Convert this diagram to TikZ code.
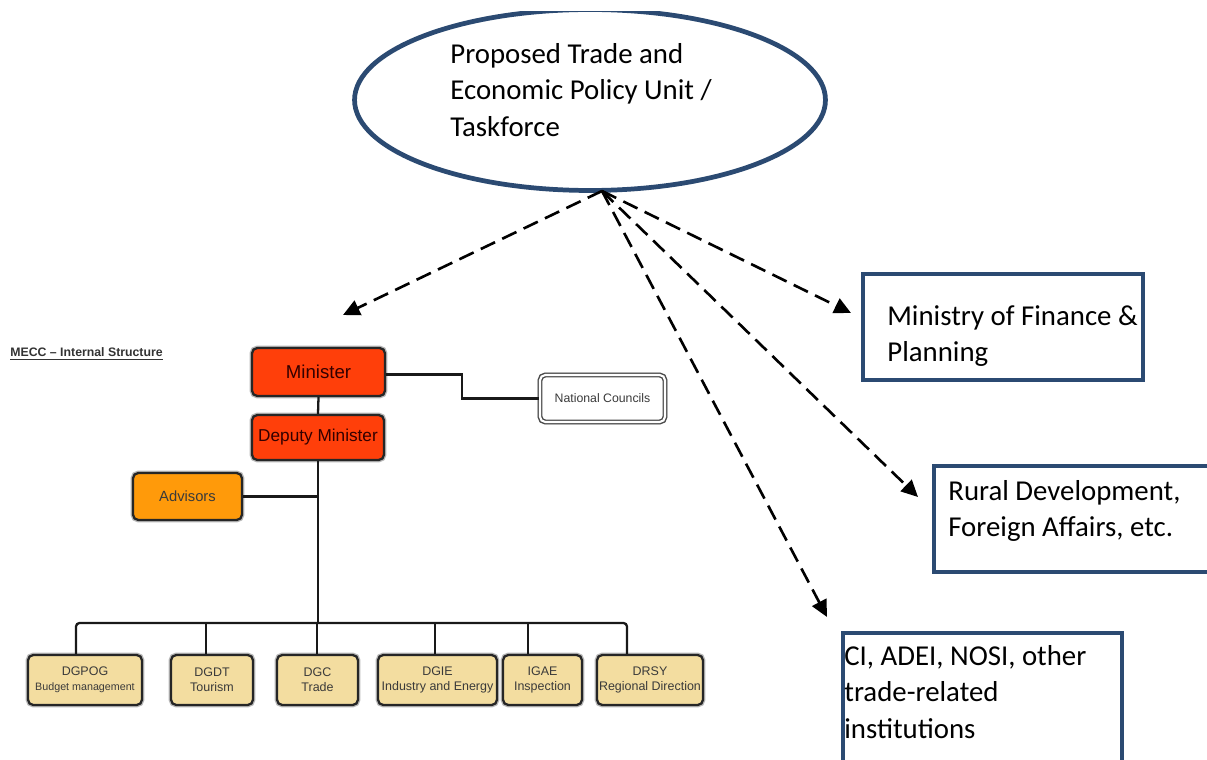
\documentclass[tikz,border=0pt]{standalone}
\usepackage{fontspec}
\setmainfont{Carlito}
\newfontfamily\orgfont{Liberation Sans}
\usetikzlibrary{arrows.meta,calc,shapes.geometric}
\definecolor{navy}{HTML}{2B4A72}
\definecolor{minred}{HTML}{FF3F0A}
\definecolor{advor}{HTML}{FF9A0A}
\definecolor{tan}{HTML}{F3DDA0}
\definecolor{orgtxt}{HTML}{3A3A3A}
\tikzset{
  bluebox/.style={draw=navy, line width=2.3pt, inner sep=0pt},
  bigtext/.style={font=\fontsize{16.4}{20.8}\selectfont, align=left, inner sep=0pt, anchor=west},
  link/.style={dashed, dash pattern=on 9pt off 4.5pt, line width=1.5pt, -{Triangle[length=9.5pt,width=9pt]}},
  orgbox/.style={draw=black!85, line width=1.3pt, rounded corners=3pt, inner sep=0pt,
     preaction={draw=gray!55, line width=2.8pt}, font=\orgfont, text=orgtxt, align=center},
  headbox/.style={orgbox, fill=minred, text=black!80!red},
  unitbox/.style={orgbox, fill=tan, font=\orgfont\fontsize{7.1}{8.4}\selectfont, minimum height=1.0cm},
  orgline/.style={line width=1.3pt, black!90}
}
\begin{document}
\begin{tikzpicture}[x=0.02cm,y=-0.02cm]
\useasboundingbox (0,0) rectangle (1207,760);
\clip (0,0) rectangle (1207,760);

% ellipse
\begin{scope}
\clip (0,12) rectangle (1207,760);
\node[draw=navy, line width=2.7pt, ellipse, minimum width=9.42cm, minimum height=3.62cm, inner sep=0pt] (unit) at (590,100) {};
\end{scope}
\node[bigtext] (unittext) at (450,90) {Proposed Trade and\\Economic Policy Unit /\\Taskforce};

% right boxes
\node[bluebox, minimum width=5.6cm, minimum height=2.12cm] (mof) at (1003,327) {};
\node[bigtext] (moftext) at (887,336) {Ministry of Finance \&\\Planning};
\node[bluebox, minimum width=6.0cm, minimum height=2.12cm] (rural) at (1084,519) {};
\node[bigtext] (ruraltext) at (948,511) {Rural Development,\\Foreign Affairs, etc.};
\node[bluebox, minimum width=5.58cm, minimum height=2.8cm] (ci) at (982.5,703) {};
\node[bigtext] (citext) at (844,692) {CI, ADEI, NOSI, other\\trade-related\\institutions};

% dashed arrows
\coordinate (hub) at (602,191);
\coordinate (tipA) at (343,315);
\coordinate (tipB) at (851,313);
\coordinate (tipC) at (918,497);
\coordinate (tipD) at (827,617);
\draw[link] (hub) -- (tipA);
\draw[link] (hub) -- (tipB);
\draw[link] (hub) -- (tipC);
\draw[link] (hub) -- (tipD);

% org chart
\node[font=\orgfont\bfseries\fontsize{7}{8}\selectfont, text=black!80, inner sep=0pt, anchor=west] (mecc) at (10,354) {\underline{MECC \textendash\ Internal Structure}};

\node[headbox, font=\orgfont\fontsize{10.6}{12}\selectfont, minimum width=2.66cm, minimum height=0.96cm] (min) at (318.5,372) {Minister};
\node[headbox, font=\orgfont\fontsize{9.8}{11}\selectfont, minimum width=2.64cm, minimum height=0.9cm] (dep) at (318,437.5) {Deputy Minister};
\node[orgbox, fill=white, draw=black!70, double=white, double distance=1.2pt, line width=0.8pt, font=\orgfont\fontsize{7}{8}\selectfont, minimum width=2.5cm, minimum height=0.94cm] (nc) at (602.5,398.5) {National Councils};
\node[orgbox, fill=advor, font=\orgfont\fontsize{8.4}{9}\selectfont, minimum width=2.18cm, minimum height=0.94cm] (adv) at (187.5,496.5) {Advisors};

\node[unitbox, minimum width=2.28cm] (dgpog) at (85,680) {DGPOG\\{\fontsize{6.1}{7.5}\selectfont Budget management}};
\node[unitbox, minimum width=1.64cm] (dgdt) at (212,680) {DGDT\\Tourism};
\node[unitbox, minimum width=1.62cm] (dgc) at (317.5,680) {DGC\\Trade};
\node[unitbox, minimum width=2.38cm] (dgie) at (437.5,680) {DGIE\\Industry and Energy};
\node[unitbox, minimum width=1.58cm] (igae) at (542.5,680) {IGAE\\Inspection};
\node[unitbox, minimum width=2.12cm] (drsy) at (650,680) {DRSY\\Regional Direction};

\coordinate (elbow) at (462,0);
\coordinate (bus) at (318,623);
\coordinate (d1) at (76,623);
\coordinate (d2) at (206,623);
\coordinate (d3) at (317,623);
\coordinate (d4) at (435,623);
\coordinate (d5) at (528,623);
\coordinate (d6) at (627,623);

\draw[orgline] (min.south) -- (dep.north);
\draw[orgline] ([yshift=-1.5pt]min.east) -- ([yshift=-1.5pt]min.east -| elbow) |- (nc.west);
\draw[orgline] (adv.east) -- (adv.east -| dep.south);
\draw[orgline] (dep.south) -- (bus);
\draw[orgline, rounded corners=2pt] (d1 |- dgpog.north) -- (d1) -- (d6) -- (d6 |- drsy.north);
\draw[orgline] (d2) -- (d2 |- dgdt.north);
\draw[orgline] (d3) -- (d3 |- dgc.north);
\draw[orgline] (d4) -- (d4 |- dgie.north);
\draw[orgline] (d5) -- (d5 |- igae.north);
\end{tikzpicture}
\end{document}
